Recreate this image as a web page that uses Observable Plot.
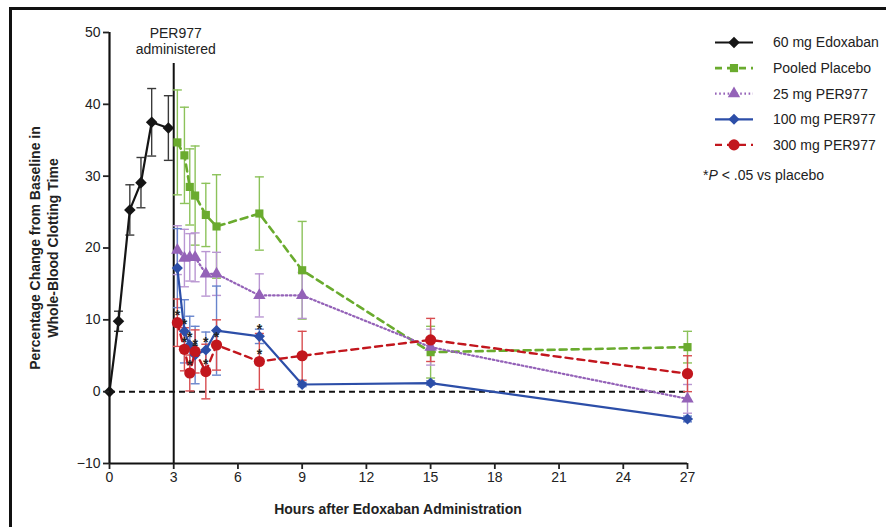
<!DOCTYPE html>
<html><head><meta charset="utf-8">
<script src="https://cdn.jsdelivr.net/npm/d3@7"></script>
<script src="https://cdn.jsdelivr.net/npm/@observablehq/plot@0.6"></script>
<style>
body{margin:0;background:#fff;}
#wrap{position:relative;width:886px;height:527px;overflow:hidden;background:#fff;}
#frame{position:absolute;left:9px;top:7px;width:900px;height:600px;border-top:3px solid #111;border-left:3px solid #111;}
#chart{position:absolute;left:0;top:0;}
</style></head>
<body><div id="wrap"><div id="frame"></div><div id="chart"></div></div>
<script>
// ---- data ----
const xTicks = [0, 3, 6, 9, 12, 15, 18, 21, 24, 27];
const yTicks = [-10, 0, 10, 20, 30, 40, 50];

const edoxHours = [0, 0.42, 0.95, 1.47, 1.97, 2.75];
const edoxMean  = [0, 9.8, 25.3, 29.1, 37.5, 36.7];
const edoxErr   = [0, 1.4, 3.5, 3.5, 4.7, 4.5];

const postHours   = [3.17, 3.5, 3.75, 4, 4.5, 5, 7, 9, 15, 27];
const placeboMean = [34.7, 32.9, 28.5, 27.3, 24.6, 23.0, 24.8, 16.9, 5.5, 6.2];
const placeboErr  = [7.3, 6.7, 5.3, 6.9, 4.4, 7.2, 5.1, 6.8, 3.6, 2.2];
const per25Mean   = [19.7, 18.6, 18.7, 18.7, 16.4, 16.4, 13.4, 13.4, 6.2, -1.0];
const per25Err    = [3.4, 4.0, 3.3, 3.4, 3.1, 3.0, 3.0, 3.2, 2.5, 2.0];
const per100Mean  = [17.2, 8.4, 6.5, 5.1, 5.8, 8.5, 7.7, 1.0, 1.2, -3.8];
const per100Err   = [5.5, 4.4, 4.0, 4.0, 2.5, 6.2, 1.0, 0.3, 0.3, 0.4];
const per300Mean  = [9.6, 5.9, 2.6, 5.6, 2.8, 6.5, 4.2, 5.0, 7.2, 2.5];
const per300Err   = [3.3, 3.0, 2.5, 3.0, 3.8, 3.5, 3.9, 3.4, 3.0, 2.5];
const per100Sig   = [false, true, true, true, true, false, true, false, false, false];
const per300Sig   = [true, true, true, true, true, true, true, false, false, false];

const seriesNames = ["60 mg Edoxaban", "Pooled Placebo", "25 mg PER977", "100 mg PER977", "300 mg PER977"];
const adminHour = 3;
const adminLineTop = 45.7;
const adminLabel = "PER977\nadministered";
const footnoteParts = ["*", "P", " < .05 vs placebo"];
const xTitle = "Hours after Edoxaban Administration";
const yTitle = ["Percentage Change from Baseline in", "Whole-Blood Clotting Time"];

// ---- styles ----
const styles = [
  {color:"#151515", bar:"#3a3a3a", symbol:"diamond2", r:5.2, dash:null, width:2.2},
  {color:"#6aab2e", bar:"#8cc25a", symbol:"square", r:4.6, dash:"7,5", width:2.6},
  {color:"#9462b8", bar:"#b996d2", symbol:"triangle", r:4.6, dash:"1.6,2.6", width:2.2},
  {color:"#2c4ea8", bar:"#6784cc", symbol:"diamond2", r:5.0, dash:null, width:2.2},
  {color:"#c2161d", bar:"#d84d50", symbol:"circle", r:5.6, dash:"7,5", width:2.4}
];

function rows(hours, mean, err, sig) {
  return hours.map((h, i) => ({x: h, y: mean[i], lo: mean[i] - err[i], hi: mean[i] + err[i], err: err[i], sig: sig ? sig[i] : false}));
}
const seriesData = [
  rows(edoxHours, edoxMean, edoxErr),
  rows(postHours, placeboMean, placeboErr),
  rows(postHours, per25Mean, per25Err),
  rows(postHours, per100Mean, per100Err, per100Sig),
  rows(postHours, per300Mean, per300Err, per300Sig)
];

const cap = {draw(ctx) { ctx.moveTo(-4.5, 0); ctx.lineTo(4.5, 0); }};

const marks = [];
marks.push(Plot.ruleY([0], {x1: 0, x2: 27, stroke: "#111", strokeWidth: 2, strokeDasharray: "6,4"}));
marks.push(Plot.ruleX([adminHour], {y1: -10, y2: adminLineTop, stroke: "#111", strokeWidth: 2}));
marks.push(Plot.text([adminLabel], {x: () => adminHour, y: () => 50, dx: 2, dy: 8, lineAnchor: "middle", fontSize: 14, fill: "#222", lineHeight: 1.15}));

seriesData.forEach((d, k) => {
  const s = styles[k];
  const eb = d.filter(r => r.err > 0);
  marks.push(Plot.ruleX(eb, {x: "x", y1: "lo", y2: "hi", stroke: s.bar, strokeWidth: 1.4}));
  marks.push(Plot.dot(eb, {x: "x", y: "lo", symbol: cap, stroke: s.bar, strokeWidth: 1.4, fill: "none"}));
  marks.push(Plot.dot(eb, {x: "x", y: "hi", symbol: cap, stroke: s.bar, strokeWidth: 1.4, fill: "none"}));
});
seriesData.forEach((d, k) => {
  const s = styles[k];
  marks.push(Plot.line(d, {x: "x", y: "y", stroke: s.color, strokeWidth: s.width, strokeDasharray: s.dash || undefined}));
  marks.push(Plot.dot(d, {x: "x", y: "y", symbol: s.symbol, r: s.r, fill: s.color, stroke: "none"}));
  const sig = d.filter(r => r.sig);
  if (sig.length) marks.push(Plot.text(sig, {x: "x", y: "y", text: () => "*", dy: -7, fontSize: 14, fontWeight: "bold", fill: "#222"}));
});

marks.push(Plot.ruleX([0], {y1: -10, y2: 50, stroke: "#111", strokeWidth: 2.2}));
marks.push(Plot.ruleY([-10], {x1: 0, x2: 27, stroke: "#111", strokeWidth: 2.2}));
marks.push(Plot.axisY(yTicks, {tickSize: 6, tickPadding: 3, strokeWidth: 1.8, fontSize: 14, fill: "#222", label: null,
  tickFormat: d => d < 0 ? "\u2212" + (-d) : String(d)}));
marks.push(Plot.axisX(xTicks, {tickSize: 6, tickPadding: 3, strokeWidth: 1.8, fontSize: 14, fill: "#222", label: null}));

const plot = Plot.plot({
  width: 886, height: 527,
  marginLeft: 109, marginRight: 199, marginTop: 32, marginBottom: 64,
  x: {domain: [0, 27]},
  y: {domain: [-10, 50]},
  style: {fontFamily: "'Liberation Sans', Arial, Helvetica, sans-serif", fontSize: "14px", color: "#222", background: "transparent"},
  marks
});
document.getElementById("chart").appendChild(plot);

const svg = d3.select(plot);
const ff = "'Liberation Sans', Arial, Helvetica, sans-serif";
svg.append("text").attr("x", 398).attr("y", 514).attr("text-anchor", "middle")
  .attr("font-family", ff).attr("font-size", 14).attr("font-weight", "bold").attr("fill", "#222").text(xTitle);
const yl = svg.append("text").attr("transform", "translate(44,248) rotate(-90)").attr("text-anchor", "middle")
  .attr("font-family", ff).attr("font-size", 14).attr("font-weight", "bold").attr("fill", "#222");
yTitle.forEach((t, i) => yl.append("tspan").attr("x", 0).attr("y", i === 0 ? -4 : 14).text(t));

const lg = svg.append("g").attr("font-family", ff).attr("font-size", 14).attr("fill", "#222").attr("text-anchor", "start");
seriesNames.forEach((name, i) => {
  const s = styles[i];
  const cy = 42.5 + i * 25.6;
  lg.append("line").attr("x1", 715).attr("x2", 753).attr("y1", cy).attr("y2", cy)
    .attr("stroke", s.color).attr("stroke-width", s.width).attr("stroke-dasharray", s.dash);
  const sym = {diamond2: d3.symbolDiamond2, square: d3.symbolSquare, triangle: d3.symbolTriangle, circle: d3.symbolCircle}[s.symbol];
  lg.append("path").attr("d", d3.symbol(sym, Math.PI * s.r * s.r)()).attr("transform", `translate(734,${cy})`).attr("fill", s.color);
  lg.append("text").attr("x", 773).attr("y", cy).attr("dy", "0.35em").attr("text-anchor", "start").text(name);
});
const fn = lg.append("text").attr("x", 703).attr("y", 175).attr("dy", "0.35em").attr("text-anchor", "start");
fn.append("tspan").text(footnoteParts[0]);
fn.append("tspan").attr("font-style", "italic").text(footnoteParts[1]);
fn.append("tspan").text(footnoteParts[2]);
</script>
</body></html>
